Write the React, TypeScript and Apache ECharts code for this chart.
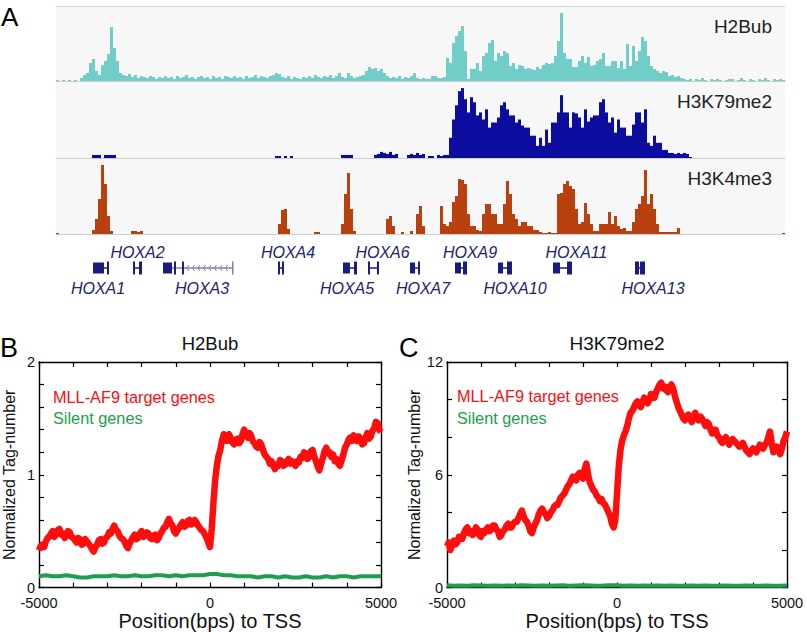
import React, { useEffect, useRef } from "react";
import * as echarts from "echarts";

// ---------------- Data ----------------
const trackNames = ["H2Bub", "H3K79me2", "H3K4me3"];
const binSizeKb = 0.6; // 243 bins over the 145.8 kb window

const h2bubSignal = [
  1, 0, 1, 0, 1, 0, 1, 0, 3, 6,
  8, 18, 22, 10, 6, 16, 20, 27, 54, 33,
  20, 8, 6, 5, 7, 4, 6, 3, 5, 4,
  3, 5, 4, 2, 4, 3, 5, 3, 4, 2,
  5, 3, 4, 6, 3, 4, 2, 4, 5, 3,
  4, 2, 5, 3, 4, 2, 5, 4, 3, 5,
  3, 4, 2, 5, 3, 4, 6, 3, 5, 4,
  3, 5, 6, 8, 7, 4, 3, 5, 2, 4,
  3, 2, 4, 3, 5, 3, 6, 4, 3, 5,
  4, 6, 3, 5, 8, 4, 3, 8, 5, 3,
  4, 5, 6, 10, 14, 12, 13, 10, 12, 8,
  5, 3, 4, 3, 5, 2, 4, 3, 5, 8,
  3, 2, 3, 2, 2, 5, 5, 3, 3, 4,
  23, 18, 38, 45, 50, 55, 30, 2, 12, 12,
  18, 10, 25, 28, 38, 41, 20, 28, 25, 30,
  28, 15, 18, 12, 16, 15, 12, 13, 12, 11,
  14, 12, 16, 18, 17, 18, 25, 40, 68, 28,
  22, 22, 14, 14, 20, 25, 18, 24, 15, 16,
  20, 22, 28, 15, 15, 20, 20, 13, 20, 12,
  37, 15, 35, 20, 30, 44, 40, 25, 15, 12,
  10, 8, 10, 9, 5, 6, 4, 5, 3, 2,
  1, 2, 0, 2, 1, 3, 1, 0, 2, 1,
  2, 1, 0, 1, 2, 2, 0, 1, 3, 1,
  0, 2, 1, 0, 2, 1, 3, 1, 0, 2,
  1, 2, 1,
];
const h3k79Signal = [
  0, 0, 0, 0, 0, 0, 0, 0, 0, 0,
  0, 0, 3, 3, 3, 0, 3, 3, 3, 3,
  0, 0, 0, 0, 0, 0, 0, 0, 0, 0,
  0, 0, 0, 0, 0, 0, 0, 0, 0, 0,
  0, 0, 0, 0, 0, 0, 0, 0, 0, 0,
  0, 0, 0, 0, 0, 0, 0, 0, 0, 0,
  0, 0, 0, 0, 0, 0, 0, 0, 0, 0,
  0, 0, 0, 2, 2, 0, 2, 0, 2, 0,
  0, 0, 0, 0, 0, 0, 0, 0, 0, 0,
  0, 0, 0, 0, 0, 3, 3, 3, 3, 0,
  0, 0, 0, 0, 0, 0, 3, 4, 6, 5,
  4, 6, 3, 4, 0, 0, 0, 3, 4, 3,
  5, 3, 4, 0, 2, 2, 0, 3, 2, 3,
  3, 20, 38, 52, 66, 69, 58, 45, 60, 55,
  42, 45, 38, 48, 30, 35, 35, 40, 52, 55,
  48, 42, 42, 35, 38, 32, 30, 30, 22, 22,
  12, 20, 12, 28, 15, 35, 35, 45, 62, 45,
  45, 30, 45, 44, 40, 30, 48, 36, 40, 42,
  42, 55, 58, 45, 35, 40, 25, 38, 30, 30,
  22, 22, 33, 45, 45, 35, 48, 15, 12, 22,
  15, 15, 8, 8, 5, 5, 4, 5, 4, 5,
  4, 1, 0, 0, 0, 0, 0, 0, 0, 0,
  0, 0, 0, 0, 0, 0, 0, 0, 0, 0,
  0, 0, 0, 0, 0, 0, 0, 0, 0, 0,
  0, 0, 0,
];
const h3k4Signal = [
  1, 0, 0, 0, 0, 0, 0, 0, 0, 0,
  0, 0, 4, 15, 35, 69, 50, 18, 3, 0,
  0, 0, 0, 0, 0, 3, 3, 2, 3, 0,
  0, 0, 0, 0, 0, 0, 0, 0, 0, 0,
  0, 0, 0, 0, 0, 0, 0, 0, 0, 0,
  0, 0, 0, 0, 0, 0, 0, 0, 0, 0,
  0, 0, 0, 0, 0, 0, 0, 0, 0, 0,
  0, 0, 0, 0, 10, 24, 25, 5, 0, 0,
  0, 0, 0, 0, 0, 0, 2, 2, 0, 0,
  0, 0, 0, 0, 0, 10, 40, 61, 25, 3,
  0, 0, 0, 0, 0, 0, 0, 0, 0, 0,
  15, 18, 8, 0, 0, 2, 0, 0, 3, 0,
  20, 28, 8, 0, 0, 0, 0, 0, 28, 10,
  8, 12, 32, 38, 55, 54, 50, 20, 8, 8,
  4, 3, 20, 30, 30, 20, 20, 10, 10, 30,
  53, 40, 20, 15, 8, 12, 12, 8, 8, 4,
  4, 2, 1, 1, 2, 1, 1, 40, 41, 50,
  53, 48, 45, 25, 10, 12, 31, 20, 10, 3,
  3, 10, 10, 10, 22, 10, 18, 8, 5, 6,
  3, 3, 12, 25, 30, 38, 64, 30, 40, 25,
  10, 2, 2, 2, 2, 2, 2, 6, 0, 0,
  0, 0, 0, 0, 0, 0, 0, 0, 0, 0,
  0, 0, 0, 0, 0, 0, 0, 0, 0, 0,
  0, 0, 0, 0, 0, 0, 0, 0, 0, 0,
  0, 0, 1,
];

const geneNames = ["HOXA1", "HOXA2", "HOXA3", "HOXA4", "HOXA5", "HOXA6", "HOXA7", "HOXA9", "HOXA10", "HOXA11", "HOXA13"];
const geneSpans = [
  [7.4, 10.6], [15.4, 17.2], [21.4, 35.4], [44.4, 45.6], [57.4, 60.2], [62.4, 64.6],
  [70.8, 72.8], [79.8, 82.2], [88.4, 91.2], [99.4, 103.2], [115.8, 117.8],
];
const geneExons = [
  [[7.4, 9.6], [10.2, 10.6]],
  [[15.4, 15.8], [16.6, 17.2]],
  [[21.4, 23.2], [23.6, 24.0], [25.2, 25.6], [35.2, 35.4]],
  [[44.4, 44.8], [45.2, 45.6]],
  [[57.4, 58.8], [59.6, 60.2]],
  [[62.4, 62.8], [64.2, 64.6]],
  [[70.8, 71.8], [72.4, 72.8]],
  [[79.8, 81.0], [81.4, 82.2]],
  [[88.4, 89.4], [90.2, 91.2]],
  [[99.4, 100.8], [102.2, 103.2]],
  [[115.8, 116.6], [116.8, 117.8]],
];
const geneLabelAbove = [false, true, false, true, false, true, false, true, false, true, false];

// Metagene profiles, -5000..5000 bp around the TSS
const targetStep = 50;
const silentStep = 200;
const h2bubTarget = [
  0.33, 0.37, 0.38, 0.36, 0.41, 0.44, 0.45, 0.48, 0.50, 0.45,
  0.47, 0.51, 0.52, 0.47, 0.48, 0.44, 0.46, 0.50, 0.49, 0.45,
  0.44, 0.42, 0.40, 0.44, 0.43, 0.38, 0.39, 0.43, 0.41, 0.39,
  0.37, 0.34, 0.32, 0.36, 0.38, 0.42, 0.43, 0.39, 0.40, 0.44,
  0.45, 0.49, 0.48, 0.52, 0.55, 0.51, 0.50, 0.46, 0.44, 0.43,
  0.41, 0.37, 0.35, 0.39, 0.42, 0.45, 0.47, 0.43, 0.44, 0.48,
  0.50, 0.45, 0.46, 0.49, 0.48, 0.44, 0.43, 0.46, 0.47, 0.42,
  0.44, 0.48, 0.50, 0.53, 0.54, 0.58, 0.61, 0.57, 0.55, 0.50,
  0.48, 0.51, 0.53, 0.56, 0.58, 0.54, 0.55, 0.59, 0.60, 0.56,
  0.57, 0.60, 0.58, 0.55, 0.53, 0.51, 0.50, 0.47, 0.44, 0.40,
  0.36,
  0.52, 0.75, 0.95, 1.08, 1.17, 1.22, 1.30, 1.36, 1.33, 1.30,
  1.36, 1.33, 1.29, 1.27, 1.31, 1.32, 1.28, 1.30, 1.36, 1.40,
  1.35, 1.33, 1.37, 1.35, 1.30, 1.28, 1.25, 1.24, 1.29, 1.27,
  1.22, 1.18, 1.16, 1.14, 1.10, 1.12, 1.08, 1.05, 1.09, 1.08,
  1.13, 1.12, 1.08, 1.09, 1.12, 1.14, 1.10, 1.12, 1.10, 1.08,
  1.12, 1.11, 1.16, 1.15, 1.20, 1.19, 1.14, 1.16, 1.21, 1.22,
  1.16, 1.12, 1.07, 1.04, 1.10, 1.15, 1.21, 1.24, 1.19, 1.20,
  1.16, 1.18, 1.12, 1.14, 1.10, 1.08, 1.13, 1.18, 1.24, 1.27,
  1.31, 1.33, 1.30, 1.35, 1.31, 1.30, 1.34, 1.32, 1.27, 1.28,
  1.33, 1.37, 1.32, 1.34, 1.39, 1.41, 1.47, 1.46, 1.40, 1.38,
];
const h2bubSilent = [
  0.10, 0.11, 0.10, 0.10, 0.11, 0.10, 0.09, 0.09, 0.10, 0.10,
  0.10, 0.11, 0.10, 0.10, 0.11, 0.10, 0.10, 0.11, 0.11, 0.10,
  0.11, 0.10, 0.11, 0.11, 0.11, 0.12, 0.12, 0.11, 0.11, 0.10,
  0.10, 0.10, 0.09, 0.10, 0.10, 0.09, 0.10, 0.09, 0.09, 0.10,
  0.09, 0.09, 0.10, 0.09, 0.10, 0.10, 0.09, 0.10, 0.10, 0.10,
  0.10,
];
const h3k79Target = [
  2.2, 2.4, 2.0, 2.3, 2.5, 2.3, 2.4, 2.7, 2.7, 2.6,
  2.9, 3.1, 3.2, 2.9, 3.0, 2.8, 2.9, 3.2, 3.1, 2.8,
  2.7, 3.0, 2.9, 3.1, 3.2, 3.0, 3.1, 3.3, 3.3, 3.1,
  3.0, 2.7, 2.8, 3.0, 3.1, 3.3, 3.4, 3.2, 3.2, 3.4,
  3.5, 3.5, 3.7, 3.9, 4.1, 3.8, 3.6, 3.5, 3.3, 3.0,
  2.9, 3.2, 3.4, 3.6, 3.9, 4.1, 4.2, 4.0, 3.9, 3.7,
  3.8, 4.0, 4.1, 4.3, 4.4, 4.4, 4.6, 4.8, 4.9, 5.0,
  5.2, 5.4, 5.5, 5.7, 5.9, 5.8, 5.7, 6.0, 6.1, 5.9,
  5.8, 6.3, 6.6, 6.0, 5.6, 5.4, 5.2, 5.1, 4.9, 4.8,
  4.6, 4.7, 4.5, 4.4, 4.2, 4.0, 3.8, 3.4, 3.2, 3.6,
  5.0,
  6.4, 7.3, 7.8, 8.1, 8.3, 8.6, 9.0, 9.3, 9.4, 9.6,
  9.8, 9.9, 9.7, 9.6, 9.9, 10.1, 9.9, 9.8, 10.0, 10.3,
  10.1, 10.1, 10.4, 10.6, 10.8, 10.9, 10.6, 10.7, 10.5, 10.4,
  10.7, 10.8, 10.6, 10.2, 9.9, 9.6, 9.4, 9.2, 9.0, 8.9,
  9.1, 9.2, 9.0, 8.8, 9.1, 9.3, 9.0, 8.9, 9.1, 9.0,
  8.8, 8.6, 8.8, 8.7, 8.4, 8.2, 8.4, 8.4, 8.1, 8.0,
  7.8, 7.7, 7.9, 8.0, 7.8, 7.6, 7.8, 7.9, 7.8, 7.7,
  7.6, 7.5, 7.6, 7.7, 7.5, 7.3, 7.2, 7.1, 7.3, 7.4,
  7.3, 7.2, 7.4, 7.6, 7.5, 7.4, 7.6, 7.7, 8.0, 8.3,
  7.7, 7.2, 7.3, 7.5, 7.3, 7.1, 7.4, 7.8, 8.0, 8.3,
];
const h3k79Silent = [
  0.12, 0.10, 0.11, 0.10, 0.12, 0.11, 0.10, 0.11, 0.10, 0.11,
  0.10, 0.12, 0.11, 0.10, 0.11, 0.10, 0.11, 0.12, 0.10, 0.11,
  0.12, 0.11, 0.10, 0.11, 0.13, 0.12, 0.10, 0.11, 0.10, 0.11,
  0.10, 0.11, 0.10, 0.11, 0.10, 0.10, 0.11, 0.10, 0.11, 0.10,
  0.10, 0.11, 0.10, 0.10, 0.11, 0.10, 0.10, 0.11, 0.10, 0.10,
  0.11,
];
const xTickLabels = [-5000, 0, 5000];
const h2bubYLabels = [0, 1, 2];
const h3k79YLabels = [0, 6, 12];
const seriesNames = ["MLL-AF9 target genes", "Silent genes"];

// ---------------- Layout / style ----------------
const FONT = "Liberation Sans, Arial, Helvetica, sans-serif";
const TRACK_COLORS = ["#70cdc7", "#0c0c9e", "#b9410f"];
const GENE_COLOR = "#1c1c80";
const INTRON_COLOR = "#7f7fb8";
const RED = "#ff0d0d";
const GREEN = "#1e9e4e";
const geneLabelShift = [-3, 0, 4, 7, -3, 9, 8, 9, 10, 14, 13];

const pairs = (vals: number[], step: number) => vals.map((v, k) => [-5000 + step * k, v]);

function buildOption() {
  const bins = h2bubSignal.map((_, i) => (i * binSizeKb).toFixed(1));
  const signals = [h2bubSignal, h3k79Signal, h3k4Signal];
  const windowKb = bins.length * binSizeKb;
  const trackGrids = [
    { left: 56, top: 6, width: 729, height: 75 },
    { left: 56, top: 82, width: 729, height: 76 },
    { left: 56, top: 159, width: 729, height: 75 },
  ].map((g) => ({ ...g, show: true, backgroundColor: "#f7f7f7", borderWidth: 0 }));

  const grids = [
    ...trackGrids,
    { left: 56, top: 238, width: 729, height: 60 },
    { left: 39, top: 362, width: 342, height: 226 },
    { left: 447, top: 362, width: 340, height: 226 },
  ];

  const trackX = [0, 1, 2].map((i) => ({
    type: "category",
    gridIndex: i,
    data: bins,
    boundaryGap: true,
    axisLine: { show: true, lineStyle: { color: "#cdcdcd", width: 1 } },
    axisTick: { show: false },
    axisLabel: { show: false },
  }));
  const topLine = {
    type: "category",
    gridIndex: 0,
    position: "top",
    data: bins,
    axisLine: { show: true, lineStyle: { color: "#d5d5d5", width: 1 } },
    axisTick: { show: false },
    axisLabel: { show: false },
  };
  const geneX = { type: "value", gridIndex: 3, min: 0, max: windowKb, show: false };

  const profX = (grid: number, top: boolean) => ({
    type: "value",
    gridIndex: grid,
    position: top ? "top" : "bottom",
    min: -5000,
    max: 5000,
    interval: 1000,
    axisLine: { show: true, onZero: false, lineStyle: { color: "#000", width: 1.4 } },
    axisTick: { show: true, inside: true, length: 5, lineStyle: { color: "#000", width: 1.2 } },
    splitLine: { show: false },
    axisLabel: top
      ? { show: false }
      : {
          show: true,
          margin: 8,
          fontSize: 14.5,
          lineHeight: 14,
          fontFamily: FONT,
          color: "#111",
          formatter: (v: number) => (xTickLabels.includes(Math.round(v)) ? String(Math.round(v)) : ""),
        },
    name: top ? "" : "Position(bps) to TSS",
    nameLocation: "middle",
    nameGap: 18,
    nameTextStyle: { fontSize: 20, fontFamily: FONT, color: "#111" },
  });

  const profY = (grid: number, right: boolean, max: number, interval: number, labels: number[]) => ({
    type: "value",
    gridIndex: grid,
    position: right ? "right" : "left",
    min: 0,
    max,
    interval,
    axisLine: { show: true, onZero: false, lineStyle: { color: "#000", width: 1.4 } },
    axisTick: { show: true, inside: true, length: 5, lineStyle: { color: "#000", width: 1.2 } },
    splitLine: { show: false },
    axisLabel: right
      ? { show: false }
      : {
          show: true,
          margin: 4,
          fontSize: 14.5,
          lineHeight: 14,
          padding: [0, 0, 4, 0],
          fontFamily: FONT,
          color: "#111",
          formatter: (v: number) => (labels.some((l) => Math.abs(l - v) < 1e-6) ? String(Math.round(v)) : ""),
        },
    name: right ? "" : "Normalized Tag-number",
    nameLocation: "middle",
    nameGap: 22,
    nameTextStyle: { fontSize: 16, fontFamily: FONT, color: "#111" },
  });

  const xAxis = [
    ...trackX,
    topLine,
    geneX,
    profX(4, false),
    profX(4, true),
    profX(5, false),
    profX(5, true),
  ];
  const yAxis = [
    ...[0, 1, 2].map((i) => ({ type: "value", gridIndex: i, min: 0, max: 75, show: false })),
    { type: "value", gridIndex: 3, min: 0, max: 1, show: false },
    profY(4, false, 2, 0.2, h2bubYLabels),
    profY(4, true, 2, 0.2, h2bubYLabels),
    profY(5, false, 12, 2, h3k79YLabels),
    profY(5, true, 12, 2, h3k79YLabels),
  ];

  const trackSeries = signals.map((s, i) => ({
    type: "bar",
    name: trackNames[i],
    xAxisIndex: i,
    yAxisIndex: i,
    data: s,
    barCategoryGap: "0%",
    barWidth: "100%",
    itemStyle: { color: TRACK_COLORS[i], borderWidth: 0 },
    silent: true,
  }));

  const geneSeries = {
    type: "custom",
    xAxisIndex: 4,
    yAxisIndex: 3,
    data: geneSpans.map((s) => [s[0], s[1]]),
    encode: { x: [0, 1] },
    silent: true,
    renderItem: (params: any, api: any) => {
      const idx = params.dataIndex;
      const span = geneSpans[idx];
      const yMid = api.coord([0, 0.5])[1];
      const children: any[] = [];
      const a = api.coord([span[0], 0.5])[0];
      const b = api.coord([span[1], 0.5])[0];
      children.push({
        type: "line",
        shape: { x1: a, y1: yMid, x2: b, y2: yMid },
        style: { stroke: idx === 2 ? INTRON_COLOR : GENE_COLOR, lineWidth: 1.5 },
      });
      const exons = geneExons[idx];
      exons.forEach((e, j) => {
        const x0 = api.coord([e[0], 0.5])[0];
        const x1 = api.coord([e[1], 0.5])[0];
        const h = j === 0 && e[1] - e[0] > 0.8 ? 11 : 13;
        children.push({
          type: "rect",
          shape: { x: x0, y: yMid - h / 2, width: Math.max(1.5, x1 - x0), height: h },
          style: { fill: idx === 2 && j === 3 ? INTRON_COLOR : GENE_COLOR },
        });
      });
      if (idx === 2) {
        const c0 = api.coord([exons[2][1], 0.5])[0] + 3;
        const c1 = api.coord([exons[3][0], 0.5])[0] - 2;
        for (let x = c0; x < c1; x += 5.5) {
          children.push({
            type: "polyline",
            shape: { points: [[x + 2, yMid - 3], [x, yMid], [x + 2, yMid + 3]] },
            style: { stroke: INTRON_COLOR, lineWidth: 1, fill: "none" },
          });
        }
      }
      const above = geneLabelAbove[idx];
      children.push({
        type: "text",
        style: {
          text: geneNames[idx],
          x: (a + b) / 2 + geneLabelShift[idx],
          y: above ? yMid - 16 : yMid + 20,
          align: "center",
          verticalAlign: "middle",
          fontSize: 16,
          fontStyle: "italic",
          fontFamily: FONT,
          fill: "#22226e",
        },
      });
      return { type: "group", children };
    },
  };

  const lineSeries = (name: string, vals: number[], step: number, xi: number, yi: number, color: string, width: number) => ({
    type: "line",
    name,
    xAxisIndex: xi,
    yAxisIndex: yi,
    data: pairs(vals, step),
    showSymbol: false,
    symbol: "none",
    lineStyle: { color, width, join: "round" },
    silent: true,
    clip: true,
  });

  const series = [
    ...trackSeries,
    geneSeries,
    lineSeries(seriesNames[1], h2bubSilent, silentStep, 5, 4, GREEN, 4),
    lineSeries(seriesNames[0], h2bubTarget, targetStep, 5, 4, RED, 6.5),
    lineSeries(seriesNames[1], h3k79Silent, silentStep, 7, 6, GREEN, 4),
    lineSeries(seriesNames[0], h3k79Target, targetStep, 7, 6, RED, 6.5),
  ];

  const txt = (text: string, x: number, y: number, size: number, color: string, align = "left") => ({
    type: "text",
    x,
    y,
    silent: true,
    style: { text, fontSize: size, fontFamily: FONT, fill: color, align, verticalAlign: "middle" },
  });

  const graphic = [
    txt("A", 1, 17, 26, "#000"),
    txt("B", 0, 348, 27, "#000"),
    txt("C", 399, 348, 27, "#000"),
    txt(trackNames[0], 772, 26, 19, "#222", "right"),
    txt(trackNames[1], 772, 101, 19, "#222", "right"),
    txt(trackNames[2], 772, 178, 19, "#222", "right"),
    txt("H2Bub", 210, 343, 18.5, "#111", "center"),
    txt("H3K79me2", 617, 343, 19, "#111", "center"),
    txt(seriesNames[0], 53, 397, 16.3, RED),
    txt(seriesNames[1], 53, 418, 16.3, GREEN),
    txt(seriesNames[0], 457, 396, 16.3, RED),
    txt(seriesNames[1], 457, 418, 16.3, GREEN),
  ];

  return {
    animation: false,
    backgroundColor: "#ffffff",
    textStyle: { fontFamily: FONT },
    grid: grids,
    xAxis,
    yAxis,
    series,
    graphic,
  };
}

export default function App() {
  const ref = useRef<HTMLDivElement>(null);
  useEffect(() => {
    if (!ref.current) return;
    const chart = echarts.init(ref.current, undefined, { renderer: "svg" });
    chart.setOption(buildOption() as any);
    return () => chart.dispose();
  }, []);
  return (
    <div
      ref={ref}
      style={{ position: "absolute", left: 0, top: 0, width: 807, height: 632, background: "#fff" }}
    />
  );
}
